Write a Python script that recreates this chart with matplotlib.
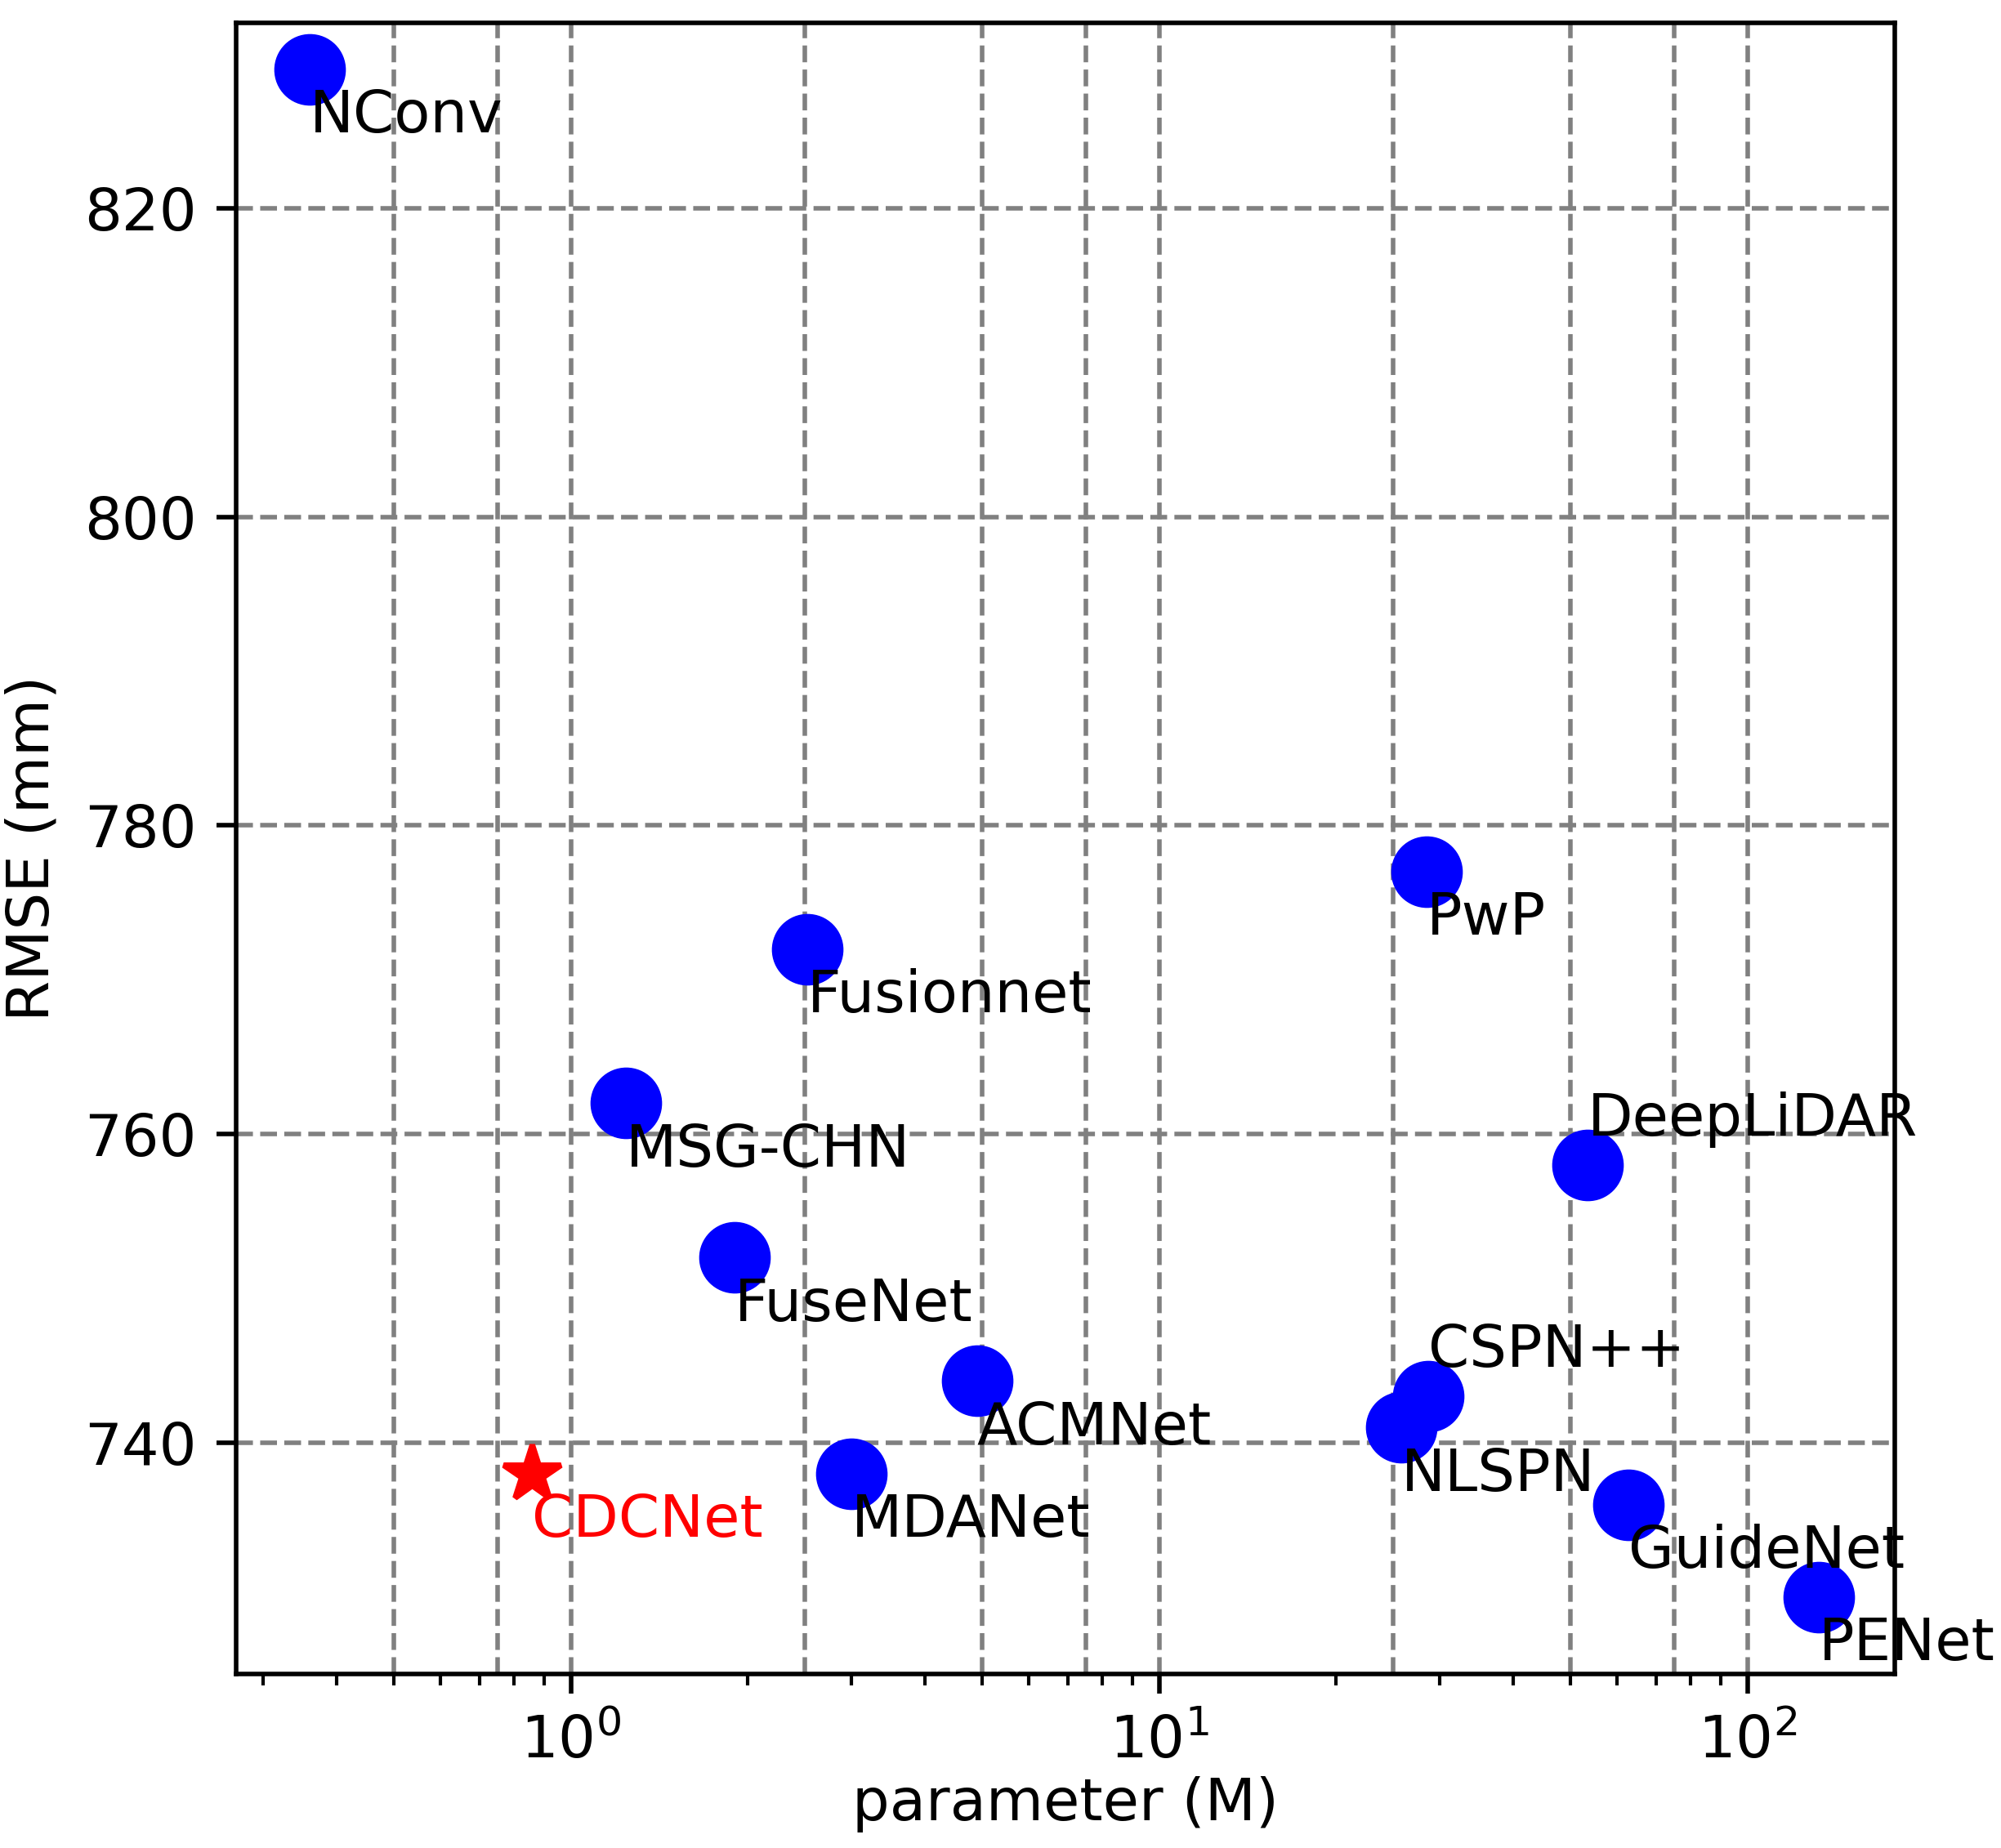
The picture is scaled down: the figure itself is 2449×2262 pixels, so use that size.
import matplotlib
matplotlib.use("Agg")
import matplotlib.pyplot as plt

names = ["NConv", "Fusionnet", "MSG-CHN", "FuseNet", "ACMNet", "MDANet",
         "PwP", "DeepLiDAR", "CSPN++", "NLSPN", "GuideNet", "PENet"]
params = [0.36, 2.52, 1.24, 1.9, 4.9, 3.0, 28.5, 53.5, 28.7, 25.8, 62.8, 132]
rmse = [829, 772, 762, 752, 744, 738, 777, 758, 743, 741, 736, 730]

ours_name = "CDCNet"
ours_param = 0.86
ours_rmse = 738

labels_above = ["DeepLiDAR", "CSPN++"]     # these two have their text above the dot

plt.rcParams["font.size"] = 10.4

fig = plt.figure(figsize=(4.898, 4.524), dpi=500)
ax = fig.add_axes([0.118, 0.094, 0.829, 0.8936])

ax.scatter(params, rmse, s=135, c="blue", zorder=3)
ax.plot([ours_param], [ours_rmse], "*", color="red", markersize=10.5, zorder=3)

for n, x, y in zip(names, params, rmse):
    dy = 1.9 if n in labels_above else -4.1
    ax.text(x, y + dy, n, zorder=4)
ax.text(ours_param, ours_rmse - 4.1, ours_name, color="red", zorder=4)

ax.set_xscale("log")
ax.set_xlim(0.27, 178)
ax.set_ylim(725, 832)
ax.set_yticks([740, 760, 780, 800, 820])

ax.grid(True, which="major", linestyle="--", color="gray", linewidth=0.8)
for gx in [0.5, 0.75, 2.5, 5, 7.5, 25, 50, 75]:     # extra vertical grid lines
    ax.axvline(gx, linestyle="--", color="gray", linewidth=0.8, zorder=0.5)
ax.set_axisbelow(True)

ax.set_xlabel("parameter (M)", labelpad=1)
ax.set_ylabel("RMSE (mm)")

fig.savefig("out.png", dpi=500)
